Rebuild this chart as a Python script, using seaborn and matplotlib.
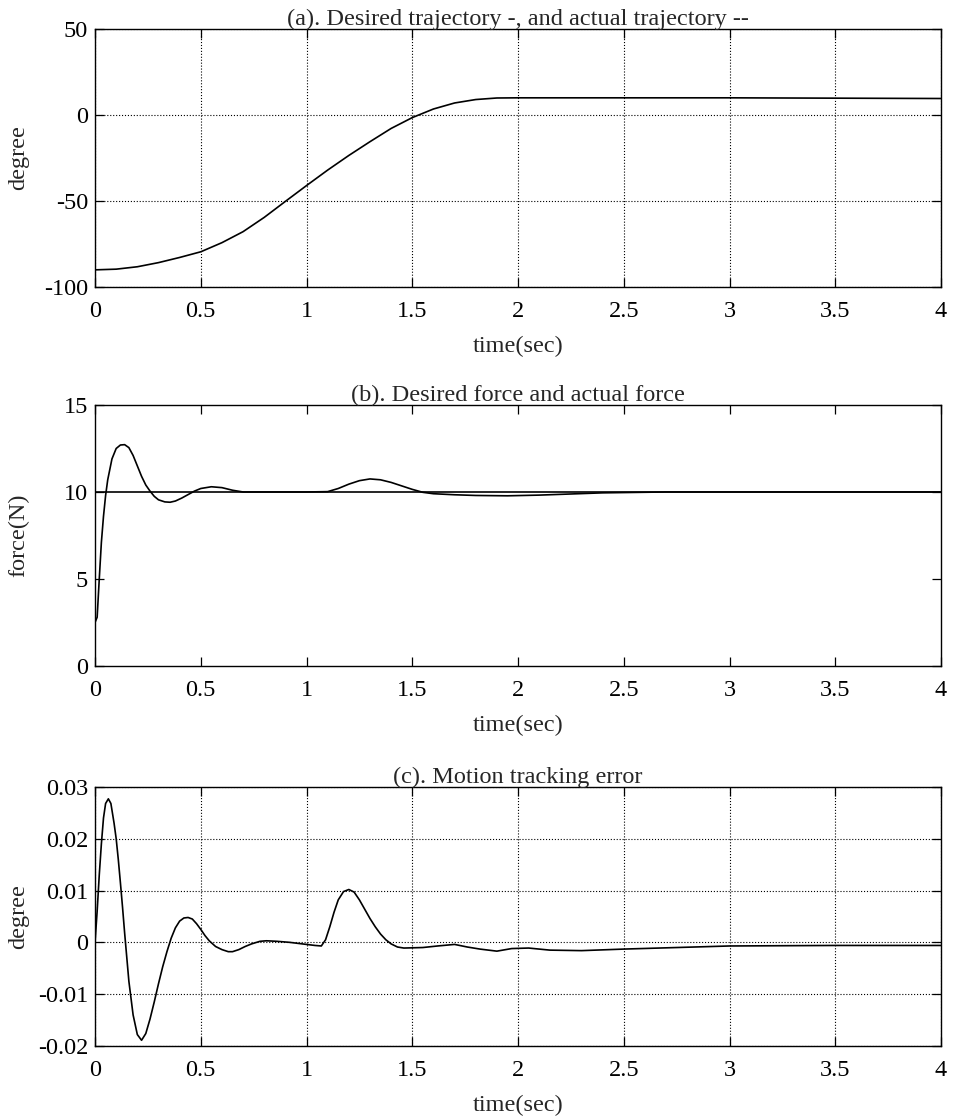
import numpy as np
import pandas as pd

import matplotlib
matplotlib.use("Agg")
import matplotlib.pyplot as plt
import seaborn as sns
from matplotlib.ticker import StrMethodFormatter

# (a) trajectory, degree
traj_t = [0.0, 0.1, 0.2, 0.3, 0.4, 0.5, 0.6, 0.7, 0.8, 0.9, 1.0,
          1.1, 1.2, 1.3, 1.4, 1.5, 1.6, 1.7, 1.8, 1.9, 2.0, 2.5, 3.0, 3.5, 4.0]
traj_deg = [-90, -89.6, -88.2, -85.8, -82.8, -79.5, -74.2, -67.8, -59.5, -50.2, -41,
            -32, -23.5, -15.5, -7.8, -1.5, 3.5, 7, 9, 9.9, 10, 10, 10, 9.8, 9.6]

# (b) desired force and actual force, N
force_des_t = [0.0, 4.0]
force_des = [10.0, 10.0]
force_t = [0.0, 0.01, 0.02, 0.03, 0.04, 0.05, 0.06, 0.08, 0.10, 0.12, 0.14,
           0.16, 0.18, 0.20, 0.22, 0.24, 0.26, 0.28, 0.30, 0.33, 0.355, 0.38,
           0.41, 0.44, 0.47, 0.50, 0.55, 0.60, 0.65, 0.70, 0.80, 0.90, 1.00,
           1.10, 1.15, 1.20, 1.25, 1.30, 1.35, 1.40, 1.45, 1.50, 1.55, 1.60,
           1.70, 1.80, 1.95, 2.10, 2.40, 2.70, 3.00, 3.50, 4.00]
force_n = [2.5, 2.8, 5.0, 7.1, 8.6, 9.8, 10.7, 11.9, 12.5, 12.7, 12.72,
           12.55, 12.1, 11.5, 10.9, 10.4, 10.05, 9.75, 9.55, 9.43, 9.41, 9.48,
           9.65, 9.85, 10.05, 10.2, 10.3, 10.25, 10.1, 10.0, 10.0, 10.0, 10.0,
           10.02, 10.2, 10.45, 10.65, 10.75, 10.7, 10.55, 10.35, 10.15, 9.98, 9.9,
           9.84, 9.8, 9.78, 9.82, 9.95, 10.0, 10.0, 10.0, 10.0]

# (c) motion tracking error, degree
err_t = [0.0, 0.01, 0.02, 0.03, 0.04, 0.05, 0.063, 0.075, 0.09, 0.10, 0.11,
         0.12, 0.13, 0.14, 0.16, 0.18, 0.20, 0.22, 0.24, 0.26, 0.28, 0.30,
         0.32, 0.34, 0.36, 0.38, 0.40, 0.42, 0.44, 0.46, 0.48, 0.50, 0.52,
         0.54, 0.57, 0.60, 0.63, 0.65, 0.68, 0.71, 0.74, 0.78, 0.81, 0.86,
         0.92, 0.98, 1.04, 1.07, 1.09, 1.11, 1.13, 1.15, 1.175, 1.20, 1.225,
         1.25, 1.275, 1.30, 1.325, 1.35, 1.375, 1.40, 1.43, 1.46, 1.55, 1.62,
         1.70, 1.76, 1.82, 1.90, 1.97, 2.05, 2.15, 2.30, 2.50, 2.75, 3.00,
         3.50, 4.00]
err_deg = [0.0, 0.006, 0.013, 0.019, 0.024, 0.0268, 0.0277, 0.0268, 0.023, 0.020, 0.016,
           0.0115, 0.0068, 0.0018, -0.0075, -0.014, -0.0178, -0.0189, -0.0176, -0.0148, -0.0115, -0.008,
           -0.0047, -0.0018, 0.0008, 0.0028, 0.0041, 0.0047, 0.0048, 0.0045, 0.0036, 0.0025, 0.0013,
           0.0003, -0.0008, -0.0014, -0.0018, -0.0018, -0.0014, -0.0008, -0.0003, 0.0002, 0.0003, 0.0002,
           0.0, -0.0003, -0.0006, -0.0007, 0.0005, 0.003, 0.0058, 0.0082, 0.0098, 0.0102, 0.0097,
           0.0082, 0.0064, 0.0046, 0.0030, 0.0016, 0.0005, -0.0003, -0.0009, -0.0011, -0.001, -0.0007,
           -0.0004, -0.0009, -0.0013, -0.0017, -0.0012, -0.0011, -0.0015, -0.0016, -0.0013, -0.001, -0.0007,
           -0.0006, -0.0006]

sns.set_style("ticks")
plt.rcParams["font.family"] = ["Liberation Serif", "DejaVu Serif"]
plt.rcParams["axes.unicode_minus"] = False
plt.rcParams["font.size"] = 17.5

fig = plt.figure(figsize=(9.57, 11.2), dpi=100)

left, width = 0.0993, 0.884
ax_a = fig.add_axes([left, 0.7437, width, 0.2304])
ax_b = fig.add_axes([left, 0.4054, width, 0.2330])
ax_c = fig.add_axes([left, 0.0661, width, 0.2313])


def style_axis(ax, title, ylabel, ylim, yticks, grid):
    ax.set_xlim(0, 4)
    ax.set_ylim(*ylim)
    ax.set_xticks(np.arange(0, 4.01, 0.5))
    ax.set_yticks(yticks)
    ax.xaxis.set_major_formatter(StrMethodFormatter("{x:g}"))
    ax.yaxis.set_major_formatter(StrMethodFormatter("{x:g}"))
    ax.tick_params(direction="in", length=6.5, width=0.9, top=True, right=True,
                   labelsize=17.5, colors="black")
    ax.tick_params(axis="x", pad=10)
    ax.tick_params(axis="y", pad=5)
    for s in ax.spines.values():
        s.set_linewidth(1.0)
        s.set_color("black")
    if grid:
        ax.grid(True, linestyle=":", color="black", linewidth=0.8)
    else:
        ax.grid(False)
    ax.set_title(title, fontsize=17.5, pad=3)
    ax.set_xlabel("time(sec)", fontsize=17.5, labelpad=10)
    ax.set_ylabel(ylabel, fontsize=17.5)
    ax.yaxis.set_label_coords(-0.078, 0.5)


sns.lineplot(x=traj_t, y=traj_deg, ax=ax_a, color="black", linewidth=1.2)
style_axis(ax_a, "(a). Desired trajectory -, and actual trajectory --", "degree",
           (-100, 50), [-100, -50, 0, 50], True)

sns.lineplot(x=force_des_t, y=force_des, ax=ax_b, color="black", linewidth=1.2)
sns.lineplot(x=force_t, y=force_n, ax=ax_b, color="black", linewidth=1.2)
style_axis(ax_b, "(b). Desired force and actual force", "force(N)",
           (0, 15), [0, 5, 10, 15], False)

sns.lineplot(x=err_t, y=err_deg, ax=ax_c, color="black", linewidth=1.2)
style_axis(ax_c, "(c). Motion tracking error", "degree",
           (-0.02, 0.03), [-0.02, -0.01, 0, 0.01, 0.02, 0.03], True)

fig.savefig("out.png", dpi=100, facecolor="white")
